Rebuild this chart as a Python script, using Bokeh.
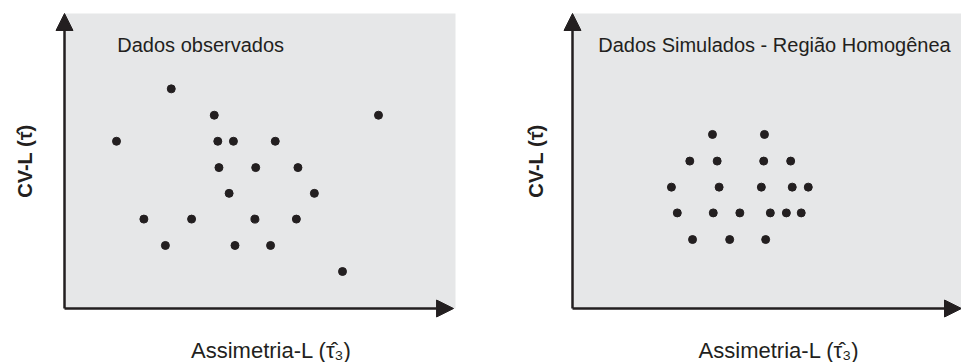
import math
from bokeh.plotting import figure
from bokeh.layouts import row
from bokeh.models import Range1d, Label, Arrow, NormalHead, BoxAnnotation
from bokeh.embed import file_html
from bokeh.resources import INLINE

# ---- data (arbitrary units; no ticks in the original) ----
obs_x = [2.73, 3.83, 8.03, 1.33, 3.92, 4.32, 5.39, 3.95, 4.89, 5.97,
         4.21, 6.39, 2.03, 3.25, 4.87, 5.93, 2.58, 4.36, 5.27, 7.11]
obs_y = [7.42, 6.53, 6.53, 5.65, 5.65, 5.65, 5.65, 4.76, 4.76, 4.76,
         3.89, 3.89, 3.02, 3.02, 3.02, 3.02, 2.13, 2.13, 2.13, 1.25]

sim_x = [3.58, 4.91, 3.00, 3.70, 4.89, 5.58, 2.53, 3.75, 4.83, 5.62,
         6.03, 2.68, 3.60, 4.28, 5.06, 5.47, 5.85, 3.07, 4.02, 4.94]
sim_y = [5.88, 5.88, 4.98, 4.98, 4.98, 4.98, 4.10, 4.10, 4.10, 4.10,
         4.10, 3.23, 3.23, 3.23, 3.23, 3.23, 3.23, 2.33, 2.33, 2.33]

titles = ["Dados observados", "Dados Simulados - Região Homogênea"]
y_label = "CV-L (\u03c4\u0302)"
x_label = "Assimetria-L (\u03c4\u0302\u2083)"

INK = "#231f20"
PANEL = "#e6e7e8"
FONT = "Liberation Sans"

Y_START, Y_END = -1.824, 10.405
Y_TOP = 9.966


def panel(xs, ys, title, width, x_start, x_end, box_right, arrow_x_end,
          title_x, ylab_x, xlab_x):
    p = figure(width=width, height=362, output_backend="svg", toolbar_location=None,
               x_axis_type=None, y_axis_type=None,
               x_range=Range1d(x_start, x_end), y_range=Range1d(Y_START, Y_END),
               min_border=0, min_border_left=0, min_border_right=0,
               min_border_top=0, min_border_bottom=0,
               background_fill_color="white", border_fill_color="white",
               outline_line_color=None)
    p.add_layout(BoxAnnotation(left=0, bottom=0, right=box_right, top=Y_TOP,
                               fill_color=PANEL, fill_alpha=1.0,
                               line_color=None, level="underlay"))
    p.scatter(xs, ys, size=8, color=INK)
    p.add_layout(Arrow(end=NormalHead(size=17, fill_color=INK, line_color=INK, line_width=1),
                       x_start=0, y_start=0, x_end=0, y_end=Y_TOP,
                       line_color=INK, line_width=2.5))
    p.add_layout(Arrow(end=NormalHead(size=17, fill_color=INK, line_color=INK, line_width=1),
                       x_start=0, y_start=0, x_end=arrow_x_end, y_end=0,
                       line_color=INK, line_width=2.5))
    p.add_layout(Label(x=title_x, y=8.885, text=title, text_font=FONT,
                       text_font_size="20px", text_color=INK,
                       text_baseline="middle", text_align="left"))
    p.add_layout(Label(x=ylab_x, y=4.98, text=y_label, text_font=FONT,
                       text_font_size="20px", text_font_style="bold", text_color=INK,
                       angle=math.pi / 2, text_baseline="middle", text_align="center"))
    p.add_layout(Label(x=xlab_x, y=-1.419, text=x_label, text_font=FONT,
                       text_font_size="22px", text_color=INK,
                       text_baseline="middle", text_align="center"))
    return p


p1 = panel(obs_x, obs_y, titles[0], 480, -1.637, 10.639, 10.0, 9.95, 1.35, -1.023, 5.29)
p2 = panel(sim_x, sim_y, titles[1], 481, -2.353, 9.949, 9.949, 9.949, 0.66, -0.946, 5.28)

layout = row(p1, p2)
open("out.html", "w").write(file_html(layout, INLINE))
